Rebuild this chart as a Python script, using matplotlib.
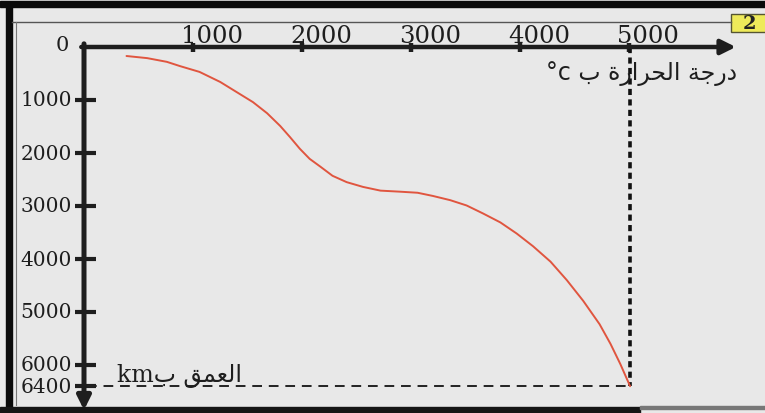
import matplotlib
matplotlib.use("Agg")
import matplotlib.pyplot as plt
from matplotlib.patches import Rectangle

# temperature (°C) vs depth (km)
temperature = [390, 580, 760, 880, 1060, 1250, 1400, 1550, 1680, 1800, 1890, 1980,
               2070, 2170, 2280, 2410, 2560, 2720, 2900, 3060, 3200, 3360, 3510,
               3660, 3820, 3970, 4120, 4280, 4430, 4580, 4730, 4830, 4920, 5010]
depth = [170, 210, 280, 360, 470, 660, 850, 1040, 1250, 1490, 1700, 1920,
         2110, 2260, 2430, 2550, 2640, 2710, 2730, 2750, 2810, 2890, 2990,
         3140, 3310, 3520, 3760, 4050, 4400, 4790, 5230, 5600, 5980, 6400]

x_ticks = [1000, 2000, 3000, 4000, 5000]
y_ticks = [1000, 2000, 3000, 4000, 5000, 6000, 6400]

# Arabic written in presentation forms, already in visual (left-to-right) order
temp_label = "°c \uFE8F \uFE93\uFEAD\uFE8D\uFEAE\uFEA4\uFEDF\uFE8D \uFE94\uFE9F\uFEAD\uFEA9"
depth_label = "km\uFE8F \uFED6\uFEE4\uFECC\uFEDF\uFE8D"
panel_number = "2"

W, H = 765, 414
PX_PER_T = 109 / 1000      # pixels per °C
PX_PER_D = 53 / 1000       # pixels per km
X0, Y0 = 84, 48            # pixel position of the origin

BG = "#e8e8e8"
INK = "#1e1e1e"
RED = "#e0553f"
SERIF = ["DejaVu Serif"]
MIXED = ["DejaVu Serif", "DejaVu Sans"]


def fx(px):
    return px / W


def fy(py):
    return 1 - py / H


fig = plt.figure(figsize=(W / 100, H / 100), dpi=100, facecolor=BG)
ax = fig.add_axes([0, 0, 1, 1])
ax.set_facecolor(BG)
ax.set_xlim(-X0 / PX_PER_T, (W - X0) / PX_PER_T)
ax.set_ylim((H - Y0) / PX_PER_D, -Y0 / PX_PER_D)
ax.axis("off")

# ---- scan frame ----------------------------------------------------------
fig.patches.append(Rectangle((0, fy(8)), 1, 6 / H, transform=fig.transFigure,
                             color="#0a0a0a", zorder=0))
fig.patches.append(Rectangle((fx(6), 0), 6 / W, fy(8), transform=fig.transFigure,
                             color="#0a0a0a", zorder=0))
fig.patches.append(Rectangle((0, 0), fx(640), 6 / H, transform=fig.transFigure,
                             color="#151515", zorder=0))
fig.patches.append(Rectangle((fx(640), fy(410)), 1 - fx(640), 3 / H,
                             transform=fig.transFigure, color="#777777", zorder=0))
fig.lines.append(plt.Line2D([fx(12), fx(731)], [fy(23), fy(23)],
                            transform=fig.transFigure, color="#555555", lw=1))
fig.lines.append(plt.Line2D([fx(16), fx(16)], [fy(23), fy(406)],
                            transform=fig.transFigure, color="#777777", lw=0.8))

# panel number box
fig.patches.append(Rectangle((fx(731), fy(33)), 36 / W, 18 / H,
                             transform=fig.transFigure, facecolor="#eeea5a",
                             edgecolor="#555533", lw=1))
fig.text(fx(749), fy(24), panel_number, ha="center", va="center",
         fontsize=14, fontweight="bold", family=SERIF, color="#222222")

# ---- axes with arrows ----------------------------------------------------
ax.annotate("", xy=(5980, 0), xytext=(-25, 0),
            arrowprops=dict(arrowstyle="-|>", color=INK, lw=3.2,
                            mutation_scale=22, shrinkA=0, shrinkB=0))
ax.annotate("", xy=(0, 6850), xytext=(0, -60),
            arrowprops=dict(arrowstyle="-|>", color=INK, lw=3.6,
                            mutation_scale=20, shrinkA=0, shrinkB=0))

label_shift = 19 / PX_PER_T   # printed labels sit to the right of their ticks
for t in x_ticks:
    ax.plot([t, t], [-70, 90], color=INK, lw=3.2, solid_capstyle="butt")
    ax.text(t + label_shift, -90, f"{t}", ha="center", va="baseline",
            fontsize=17.5, family=SERIF, color=INK)
ax.text(-200, -50, "0", ha="center", va="center", fontsize=15,
        family=SERIF, color=INK)

for d in y_ticks:
    ax.plot([-80, 110], [d, d], color=INK, lw=3, solid_capstyle="butt")
    ax.text(-110, d, f"{d}", ha="right", va="center", fontsize=14.5,
            family=SERIF, color=INK)

# ---- dashed guides to the centre of the Earth ---------------------------
ax.plot([temperature[-1], temperature[-1]], [0, depth[-1]], color="#111111",
        lw=2.6, dashes=(1.7, 1.2))
ax.plot([30, temperature[-1]], [depth[-1], depth[-1]], color="#222222",
        lw=1.4, dashes=(5, 3.5))

# ---- temperature profile -------------------------------------------------
ax.plot(temperature, depth, color=RED, lw=1.4, solid_capstyle="round",
        solid_joinstyle="round")

# ---- axis titles ---------------------------------------------------------
ax.text(5990, 480, temp_label, ha="right", va="center", fontsize=17,
        family=["DejaVu Sans"], color=INK)
ax.text(305, 6300, depth_label, ha="left", va="baseline", fontsize=17,
        family=MIXED, color=INK)

fig.savefig("out.png", dpi=100, facecolor=BG)
